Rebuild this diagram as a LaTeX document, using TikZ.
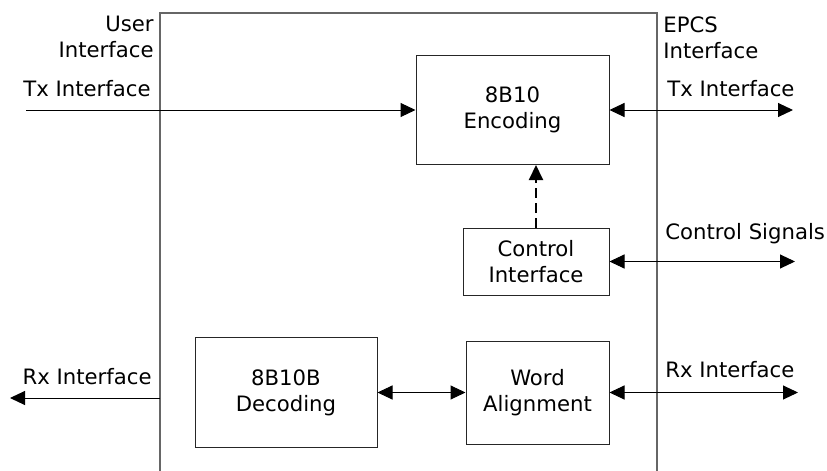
\documentclass[tikz,border=0pt]{standalone}
\usepackage{fontspec}
\setmainfont{DejaVu Sans}
\usepackage{tikz}
\usetikzlibrary{arrows.meta}

\begin{document}
\begin{tikzpicture}[
  x = 0.5pt, y = -0.5pt,
  every node/.style = {font = \fontsize{10.6}{13}\selectfont},
  block/.style = {draw = black!85, line width = 0.5pt, align = center, inner sep = 0pt},
  tag/.style = {inner sep = 0pt},
  frame/.style = {draw = black!60, line width = 0.7pt},
  link/.style = {line width = 0.5pt, -{Triangle[length = 7.5pt, width = 7pt]}},
  duplex/.style = {line width = 0.5pt, {Triangle[length = 7.5pt, width = 7pt]}-{Triangle[length = 7.5pt, width = 7pt]}}
]
\useasboundingbox (0,0) rectangle (827,471);

% outer block, open at the bottom
\draw[frame] (160,471) -- (160,13) -- (657,13) -- (657,471);

\node[block, minimum width = 96.5pt, minimum height = 54.5pt] (enc) at (512.5,110) {8B10\\Encoding};
\node[block, minimum width = 73pt, minimum height = 33.5pt] (ctrl) at (536,261.5) {Control\\Interface};
\node[block, minimum width = 91pt, minimum height = 55pt] (dec) at (286,392.5) {8B10B\\Decoding};
\node[block, minimum width = 71.5pt, minimum height = 51.5pt] (wordal) at (537.5,392.5) {Word\\Alignment};

\coordinate (txin) at (26,110);
\coordinate (txout) at (793,110);
\coordinate (sigout) at (795,264);
\coordinate (rxout) at (798,392.5);
\coordinate (rxin) at (160,398);
\coordinate (rxend) at (10,398);

\node[tag, anchor = north east, align = right] (usr) at (154,16) {User\\Interface};
\node[tag, anchor = base east] (txl) at (151,97) {Tx Interface};
\node[tag, anchor = north west, align = left] (epcs) at (663,16) {EPCS\\Interface};
\node[tag, anchor = base west] (txr) at (667,97) {Tx Interface};
\node[tag, anchor = base west] (sig) at (665,240) {Control Signals};
\node[tag, anchor = base west] (rxr) at (665,377) {Rx Interface};
\node[tag, anchor = base east] (rxl) at (152,384) {Rx Interface};

\draw[link] (txin) -- (enc.west);
\draw[duplex] (enc.east) -- (enc.east -| txout);
\draw[link, line width = 1pt, dash pattern = on 5pt off 2.5pt] (ctrl.north) -- (ctrl.north |- enc.south);
\draw[duplex] (ctrl.east) -- (ctrl.east -| sigout);
\draw[duplex] (dec.east) -- (wordal.west);
\draw[duplex] (wordal.east) -- (wordal.east -| rxout);
\draw[link] (rxin) -- (rxend);
\end{tikzpicture}
\end{document}
